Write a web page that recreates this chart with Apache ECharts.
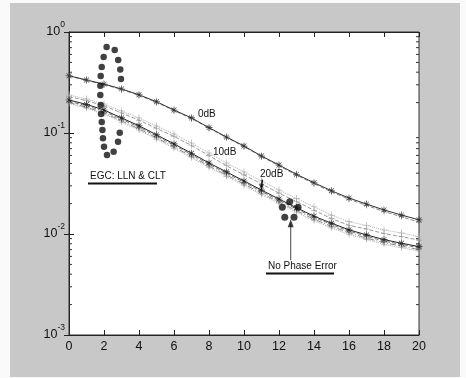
<!DOCTYPE html>
<html><head><meta charset="utf-8">
<script src="https://cdn.jsdelivr.net/npm/echarts@6/dist/echarts.min.js"></script>
<style>
html,body{margin:0;padding:0;background:#fafafa;}
#bg{position:absolute;left:10px;top:3px;width:450px;height:374px;background:#c8c8c8;}
#c{position:absolute;left:0;top:0;width:466px;height:378px;}
</style></head>
<body><div id="bg"></div><div id="c"></div>
<script>
const snr = [0,1,2,3,4,5,6,7,8,9,10,11,12,13,14,15,16,17,18,19,20];
const xTicks = [0,2,4,6,8,10,12,14,16,18,20];
const yTicks = [0.001,0.01,0.1,1];
// 0dB phase error
const ber0a = [0.369,0.335,0.305,0.273,0.239,0.204,0.169,0.141,0.113,0.0912,0.0743,0.0592,0.0482,0.039,0.0322,0.0268,0.0227,0.0198,0.0173,0.0154,0.0138];
const ber0b = [0.366,0.332,0.301,0.270,0.236,0.201,0.167,0.139,0.112,0.0902,0.0733,0.0583,0.0474,0.0382,0.0315,0.0261,0.0221,0.0192,0.0167,0.0148,0.0131];
// 10dB phase error
const ber10a = [0.2378,0.2171,0.1937,0.1651,0.1408,0.1173,0.0977,0.0796,0.0634,0.0505,0.0411,0.0335,0.0273,0.0225,0.0186,0.0154,0.01324,0.01214,0.01096,0.01023,0.0094];
const ber10b = [0.229,0.209,0.186,0.158,0.134,0.111,0.0925,0.0752,0.0597,0.0474,0.0385,0.0313,0.0254,0.0209,0.0172,0.0142,0.0122,0.0112,0.0101,0.0094,0.0087];
// 20dB phase error
const ber20a = [0.212,0.192,0.169,0.141,0.118,0.0960,0.0780,0.0630,0.0505,0.0412,0.0335,0.0272,0.0222,0.0182,0.0150,0.0128,0.0110,0.0098,0.0088,0.0081,0.0075];
const ber20b = [0.206,0.186,0.164,0.137,0.1145,0.0931,0.0757,0.0611,0.049,0.040,0.0325,0.0264,0.0215,0.0177,0.0146,0.0124,0.0107,0.0095,0.0085,0.0079,0.0073];
// no phase error
const berNa = [0.200,0.180,0.158,0.132,0.110,0.0895,0.0727,0.0587,0.0471,0.0384,0.0312,0.0253,0.0207,0.017,0.014,0.0119,0.0103,0.0091,0.0082,0.0076,0.0070];
const berNb = [0.196,0.176,0.154,0.128,0.107,0.0868,0.0705,0.0569,0.0456,0.0372,0.0302,0.0245,0.020,0.0164,0.0135,0.0115,0.0099,0.0088,0.0079,0.0073,0.0068];
// annotation dots (data coordinates)
const egcDotsX = [2.15,2.61,2.81,2.93,2.97,1.98,1.87,1.81,1.79,1.79,1.81,1.83,1.87,1.91,1.94,2.0,2.17,2.55,2.8,2.9];
const egcDotsY = [0.710,0.664,0.528,0.426,0.343,0.566,0.450,0.367,0.294,0.238,0.189,0.154,0.1285,0.107,0.0887,0.0732,0.0605,0.0653,0.082,0.1007];
const npDotsX = [12.19,12.61,13.09,12.33,12.86];
const npDotsY = [0.01837,0.0209,0.01837,0.01463,0.01463];
const npArrowX = [12.67,12.67];
const npArrowY = [0.0128,0.0055];
const arrow20X = [11.05,11.0];
const arrow20Y = [0.0345,0.0290];

const minorVals = [];
for (let n = -3; n < 0; n++) for (let k = 2; k <= 9; k++) minorVals.push(k * Math.pow(10, n));

const STAR = 'path://M-0.45,-5h0.9v10h-0.9z M-5,-0.45h10v0.9h-10z M-3.2,-3.8L3.8,3.2L3.2,3.8L-3.8,-3.2z M3.2,-3.8L3.8,-3.2L-3.2,3.8L-3.8,3.2z';
const PLUS = 'path://M-0.5,-5h1v10h-1z M-5,-0.45h10v0.9h-10z';
const FONT = 'Liberation Sans';

function pairs(xs, ys){ return xs.map((x,i)=>[x, ys[i]]); }
function curve(vals, color, type, sym, size){
  return {type:'line', data: pairs(snr, vals), symbol: sym, symbolSize: size||7, showSymbol: true,
    lineStyle:{color: color, width: 1, type: type}, itemStyle:{color: color}, z: 3, silent:true};
}

const chart = echarts.init(document.getElementById('c'), null, {renderer:'canvas'});
chart.setOption({
  animation:false,
  backgroundColor:'transparent',
  grid:{left:69, top:32, width:350, height:303, show:true, backgroundColor:'#ffffff', borderColor:'#333', borderWidth:1},
  xAxis:[
    {type:'value', min:0, max:20, interval:2, position:'bottom',
     axisLine:{show:true, lineStyle:{color:'#222'}}, splitLine:{show:false},
     axisTick:{show:true, inside:true, length:5, lineStyle:{color:'#222'}},
     axisLabel:{color:'#111', fontSize:12.5, fontFamily:FONT, margin:5}},
    {type:'value', min:0, max:20, interval:2, position:'top',
     axisLine:{show:true, lineStyle:{color:'#222'}}, splitLine:{show:false},
     axisTick:{show:true, inside:true, length:5, lineStyle:{color:'#222'}}, axisLabel:{show:false}}
  ],
  yAxis:[
    {type:'log', logBase:10, min:0.001, max:1, position:'left',
     axisLine:{show:true, lineStyle:{color:'#222'}}, splitLine:{show:false},
     axisTick:{show:true, inside:true, length:5, lineStyle:{color:'#222'}},
     axisLabel:{margin:4, fontFamily:FONT, color:'#111', padding:[0,0,6,0],
       formatter: v => '{b|10}{s|' + Math.round(Math.log10(v)) + '}',
       rich:{b:{fontSize:12.5, lineHeight:18, fontFamily:FONT, color:'#111', verticalAlign:'bottom'},
             s:{fontSize:8.5, lineHeight:18, fontFamily:FONT, color:'#111', verticalAlign:'top'}}}},
    {type:'log', logBase:10, min:0.001, max:1, position:'right',
     axisLine:{show:true, lineStyle:{color:'#222'}}, splitLine:{show:false},
     axisTick:{show:true, inside:true, length:5, lineStyle:{color:'#222'}}, axisLabel:{show:false}}
  ],
  series:[
    {type:'custom', data: minorVals.map(v=>[0,v]), silent:true, z:2,
     renderItem:(params, api)=>{
       const v = api.value(1);
       const a = api.coord([0, v]), b = api.coord([20, v]);
       return {type:'group', children:[
         {type:'line', shape:{x1:a[0], y1:a[1], x2:a[0]+3, y2:a[1]}, style:{stroke:'#333', lineWidth:1}},
         {type:'line', shape:{x1:b[0], y1:b[1], x2:b[0]-3, y2:b[1]}, style:{stroke:'#333', lineWidth:1}}
       ]};
     }},
    curve(ber0b, '#888', 'dashed', PLUS, 6),
    curve(ber0a, '#333', 'solid', STAR),
    curve(ber10a, '#b0b0b0', 'dotted', PLUS, 7),
    curve(ber10b, '#999', 'dashed', PLUS, 6),
    curve(berNb, '#aaa', 'dotted', PLUS, 6),
    curve(berNa, '#888', [6,2,1,2], PLUS, 6),
    curve(ber20b, '#777', 'dashed', PLUS, 6),
    curve(ber20a, '#222', 'solid', STAR),
    {type:'scatter', data: pairs(egcDotsX, egcDotsY), symbol:'circle', symbolSize:6.5, itemStyle:{color:'#111'}, z:5, silent:true},
    {type:'scatter', data: pairs(npDotsX, npDotsY), symbol:'circle', symbolSize:7, itemStyle:{color:'#111'}, z:5, silent:true},
    {type:'line', data: pairs(npArrowX, npArrowY), symbol:'none', lineStyle:{color:'#444', width:1}, z:5, silent:true},
    {type:'scatter', data: [[npArrowX[0], npArrowY[0]]], symbol:'triangle', symbolSize:[6,8], itemStyle:{color:'#111'}, z:6, silent:true},
    {type:'line', data: pairs(arrow20X, arrow20Y), symbol:'none', lineStyle:{color:'#111', width:1.5}, z:5, silent:true},
    {type:'scatter', data: [[arrow20X[1], arrow20Y[1]]], symbol:'triangle', symbolRotate:180, symbolSize:[5,6], itemStyle:{color:'#111'}, z:6, silent:true}
  ],
  graphic:[
    {type:'text', left:198, top:109, z:10, style:{text:'0dB', font:'10px "Liberation Sans"', fill:'#111'}},
    {type:'text', left:213, top:147, z:10, style:{text:'10dB', font:'10px "Liberation Sans"', fill:'#111'}},
    {type:'text', left:260, top:169, z:10, style:{text:'20dB', font:'10px "Liberation Sans"', fill:'#111'}},
    {type:'text', left:90, top:171, z:10, style:{text:'EGC: LLN & CLT', font:'10px "Liberation Sans"', fill:'#111'}},
    {type:'line', z:10, shape:{x1:88, y1:183.5, x2:157, y2:183.5}, style:{stroke:'#111', lineWidth:2}},
    {type:'text', left:268, top:261, z:10, style:{text:'No Phase Error', font:'10px "Liberation Sans"', fill:'#111'}},
    {type:'line', z:10, shape:{x1:266, y1:273.5, x2:334, y2:273.5}, style:{stroke:'#111', lineWidth:2}}
  ]
});
</script></body></html>
